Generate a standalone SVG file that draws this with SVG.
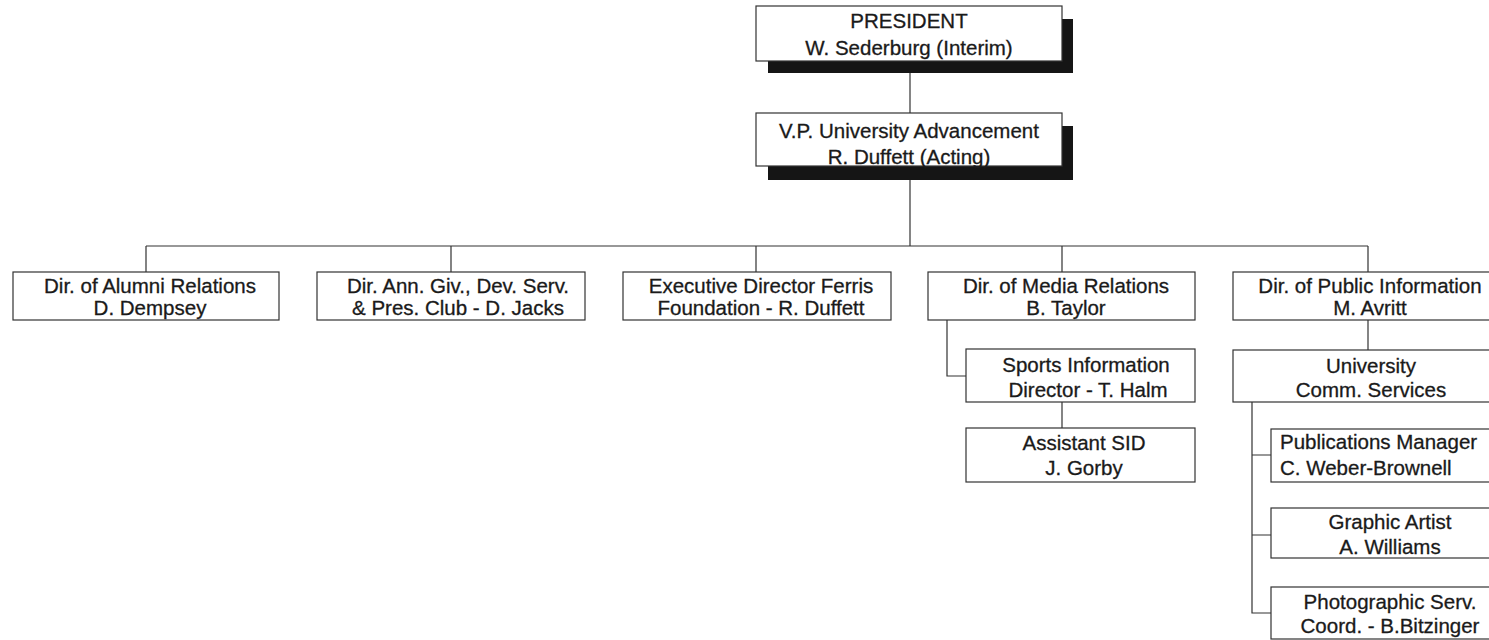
<svg xmlns="http://www.w3.org/2000/svg" width="1489" height="640" viewBox="0 0 1489 640">
<style>
.box{fill:#fff;stroke:#333;stroke-width:1.2}
.shadow{fill:#151515}
.t{font-family:"Liberation Sans",Arial,sans-serif;font-size:20.5px;fill:#1a1a1a;stroke:#1a1a1a;stroke-width:0.3;text-anchor:middle}
.ts{font-family:"Liberation Sans",Arial,sans-serif;font-size:20.5px;fill:#1a1a1a;stroke:#1a1a1a;stroke-width:0.3;text-anchor:start}
.c{fill:none;stroke:#333;stroke-width:1.2}
</style>
<rect width="1489" height="640" fill="#fff"/>
<g id="connectors">
<path class="c" d="M910 61V113"/>
<path class="c" d="M910 166V246"/>
<path class="c" d="M146 246H1368"/>
<path class="c" d="M146 246V272M451 246V272M756 246V272M1062 246V272M1368 246V272"/>
<path class="c" d="M947 320V376H966"/>
<path class="c" d="M1062 402V428"/>
<path class="c" d="M1368 320V350"/>
<path class="c" d="M1252 402V613H1271M1252 455H1271M1252 535H1271"/>
</g>
<g id="president">
<rect class="shadow" x="768" y="19" width="305" height="54"/>
<rect class="box" x="756" y="6" width="306" height="55"/>
<text class="t" x="909" y="28">PRESIDENT</text>
<text class="t" x="909" y="55">W. Sederburg (Interim)</text>
</g>
<g id="vp">
<rect class="shadow" x="768" y="126" width="305" height="54"/>
<rect class="box" x="756" y="113" width="306" height="53"/>
<text class="t" x="909" y="138">V.P. University Advancement</text>
<text class="t" x="909" y="164">R. Duffett (Acting)</text>
</g>
<g id="alumni">
<rect class="box" x="13" y="272" width="266" height="48"/>
<text class="t" x="150" y="293">Dir. of Alumni Relations</text>
<text class="t" x="150" y="315">D. Dempsey</text>
</g>
<g id="annual-giving">
<rect class="box" x="317" y="272" width="268" height="48"/>
<text class="t" x="458" y="293">Dir. Ann. Giv., Dev. Serv.</text>
<text class="t" x="458" y="315">&amp; Pres. Club - D. Jacks</text>
</g>
<g id="foundation">
<rect class="box" x="623" y="272" width="268" height="48"/>
<text class="t" x="761" y="293">Executive Director Ferris</text>
<text class="t" x="761" y="315">Foundation - R. Duffett</text>
</g>
<g id="media">
<rect class="box" x="928" y="272" width="267" height="48"/>
<text class="t" x="1066" y="293">Dir. of Media Relations</text>
<text class="t" x="1066" y="315">B. Taylor</text>
</g>
<g id="public-info">
<rect class="box" x="1233" y="272" width="270" height="48"/>
<text class="t" x="1370" y="293">Dir. of Public Information</text>
<text class="t" x="1370" y="315">M. Avritt</text>
</g>
<g id="sports-info">
<rect class="box" x="966" y="349" width="229" height="53"/>
<text class="t" x="1086" y="372">Sports Information</text>
<text class="t" x="1088" y="397">Director - T. Halm</text>
</g>
<g id="assistant-sid">
<rect class="box" x="966" y="428" width="229" height="54"/>
<text class="t" x="1084" y="450">Assistant SID</text>
<text class="t" x="1084" y="475">J. Gorby</text>
</g>
<g id="univ-comm">
<rect class="box" x="1233" y="350" width="270" height="52"/>
<text class="t" x="1371" y="373">University</text>
<text class="t" x="1371" y="397">Comm. Services</text>
</g>
<g id="publications">
<rect class="box" x="1271" y="429" width="236" height="53"/>
<text class="ts" x="1280" y="449">Publications Manager</text>
<text class="ts" x="1280" y="475">C. Weber-Brownell</text>
</g>
<g id="graphic">
<rect class="box" x="1271" y="508" width="236" height="50"/>
<text class="t" x="1390" y="529">Graphic Artist</text>
<text class="t" x="1390" y="554">A. Williams</text>
</g>
<g id="photo">
<rect class="box" x="1271" y="587" width="236" height="52"/>
<text class="t" x="1390" y="609">Photographic Serv.</text>
<text class="t" x="1390" y="633">Coord. - B.Bitzinger</text>
</g>
</svg>
